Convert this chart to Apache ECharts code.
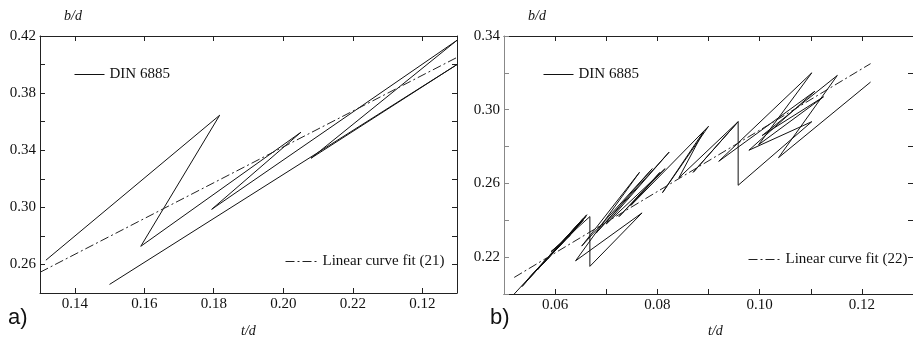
<!DOCTYPE html>
<html>
<head>
<meta charset="utf-8">
<script src="https://cdn.jsdelivr.net/npm/echarts@6/dist/echarts.min.js"></script>
<style>
  html, body { margin: 0; padding: 0; background: #fff; }
  #chart { width: 913px; height: 340px; }
</style>
</head>
<body>
<div id="chart"></div>
<script>
// Panel a) - DIN 6885 polyline (t/d, b/d) in drawing order
const dinA_t = [0.1317, 0.1817, 0.159, 0.2051, 0.1794, 0.25, 0.208, 0.25, 0.15];
const dinA_b = [0.263, 0.3645, 0.2727, 0.3526, 0.2986, 0.417, 0.3344, 0.400, 0.246];
// Panel a) - linear curve fit (21)
const fitA_t = [0.13, 0.25];
const fitA_b = [0.2545, 0.405];

// Panel b) - DIN 6885 polyline
const dinB_t = [0.052, 0.0662, 0.0535, 0.0655, 0.055, 0.065, 0.0565, 0.066, 0.0575, 0.0645,
  0.0585, 0.0655, 0.0595, 0.064, 0.060, 0.063, 0.0592,
  0.0668, 0.0668, 0.077, 0.064, 0.0765, 0.0652, 0.079, 0.068, 0.0823, 0.070, 0.0815,
  0.0725, 0.0805, 0.0748, 0.090, 0.081, 0.089, 0.0842, 0.0958, 0.087, 0.0958, 0.0958,
  0.1102, 0.0979, 0.1108, 0.092, 0.1102, 0.0998, 0.1125, 0.1005, 0.1152, 0.1037, 0.1217];
const dinB_b = [0.200, 0.243, 0.204, 0.241, 0.209, 0.239, 0.213, 0.242, 0.216, 0.237,
  0.219, 0.240, 0.222, 0.235, 0.224, 0.232, 0.223,
  0.242, 0.215, 0.244, 0.218, 0.266, 0.226, 0.268, 0.233, 0.277, 0.238, 0.268,
  0.242, 0.266, 0.248, 0.291, 0.255, 0.288, 0.263, 0.2935, 0.266, 0.2935, 0.259,
  0.2935, 0.278, 0.310, 0.272, 0.320, 0.281, 0.307, 0.286, 0.3186, 0.274, 0.315];
// Panel b) - linear curve fit (22)
const fitB_t = [0.052, 0.1217];
const fitB_b = [0.209, 0.325];

// ticks and labels
const xTicksA = [0.14, 0.16, 0.18, 0.20, 0.22, 0.24];
const xLabelsA = ['0.14', '0.16', '0.18', '0.20', '0.22', '0.12'];
const yTicksA = [0.24, 0.26, 0.28, 0.30, 0.32, 0.34, 0.36, 0.38, 0.40, 0.42];
const yLabelValsA = [0.26, 0.30, 0.34, 0.38, 0.42];
const xTicksB = [0.06, 0.07, 0.08, 0.09, 0.10, 0.11, 0.12];
const xLabelValsB = [0.06, 0.08, 0.10, 0.12];
const yTicksB = [0.20, 0.22, 0.24, 0.26, 0.28, 0.30, 0.32, 0.34];
const yLabelValsB = [0.22, 0.26, 0.30, 0.34];

const serif = '"Liberation Serif", "DejaVu Serif", serif';
const pairs = (xs, ys) => xs.map((x, i) => [x, ys[i]]);
const fmt2 = (v) => v.toFixed(2);
const fmtA = (v) => {
  let i = xTicksA.findIndex((u) => Math.abs(u - v) < 1e-6);
  return i >= 0 ? xLabelsA[i] : fmt2(v);
};

let makeAxis = (opts) => {
  let labelled = !!opts.labels;
  return {
    type: 'value',
    gridIndex: opts.grid,
    position: opts.position,
    min: opts.min,
    max: opts.max,
    splitLine: { show: false },
    axisLine: { show: opts.line !== false, onZero: false, lineStyle: { color: opts.color || '#222', width: 1 } },
    axisTick: { show: true, inside: true, length: 5, customValues: opts.ticks, lineStyle: { color: opts.color || '#222' } },
    axisLabel: labelled ? {
      show: true, customValues: opts.labels, formatter: opts.formatter || fmt2,
      color: '#111', fontFamily: serif, fontSize: 15, margin: opts.margin || 4
    } : { show: false }
  };
};

let makeLegend = (name, left, top, width) => ({
  data: [name], left: left, top: top, itemWidth: width, itemHeight: 10, itemGap: 4,
  itemStyle: { opacity: 0 },
  lineStyle: { width: 1 },
  textStyle: { fontFamily: serif, fontSize: 15, color: '#111' }
});

const dashDot = [9, 3, 2, 3];
const chart = echarts.init(document.getElementById('chart'), null, { renderer: 'canvas' });

chart.setOption({
  animation: false,
  backgroundColor: '#fff',
  grid: [
    { left: 40, top: 36, width: 417, height: 257 },
    { left: 504, top: 36, width: 416, height: 258 }
  ],
  xAxis: [
    makeAxis({ grid: 0, position: 'bottom', min: 0.13, max: 0.25, ticks: xTicksA, labels: xTicksA, formatter: fmtA }),
    makeAxis({ grid: 0, position: 'top', min: 0.13, max: 0.25, ticks: xTicksA }),
    makeAxis({ grid: 1, position: 'bottom', min: 0.05, max: 0.13, ticks: xTicksB, labels: xLabelValsB }),
    makeAxis({ grid: 1, position: 'top', min: 0.05, max: 0.13, ticks: xTicksB })
  ],
  yAxis: [
    makeAxis({ grid: 0, position: 'left', min: 0.24, max: 0.42, ticks: yTicksA, labels: yLabelValsA }),
    makeAxis({ grid: 0, position: 'right', min: 0.24, max: 0.42, ticks: yTicksA }),
    makeAxis({ grid: 1, position: 'left', min: 0.20, max: 0.34, ticks: yTicksB, labels: yLabelValsB, color: '#888' }),
    makeAxis({ grid: 1, position: 'right', min: 0.20, max: 0.34, ticks: yTicksB, line: false })
  ],
  legend: [
    makeLegend('DIN 6885', 69, 62, 30),
    makeLegend('Linear curve fit (21)', 280, 249, 32),
    makeLegend('DIN 6885', 538, 62, 30),
    makeLegend('Linear curve fit (22)', 743, 247, 32)
  ],
  series: [
    { name: 'DIN 6885', type: 'line', xAxisIndex: 0, yAxisIndex: 0, data: pairs(dinA_t, dinA_b),
      symbol: 'none', lineStyle: { color: '#111', width: 1 }, itemStyle: { color: '#111' } },
    { name: 'Linear curve fit (21)', type: 'line', xAxisIndex: 0, yAxisIndex: 0, data: pairs(fitA_t, fitA_b),
      symbol: 'none', lineStyle: { color: '#222', width: 1, type: dashDot }, itemStyle: { color: '#222' } },
    { name: 'DIN 6885', type: 'line', xAxisIndex: 2, yAxisIndex: 2, data: pairs(dinB_t, dinB_b),
      symbol: 'none', lineStyle: { color: '#111', width: 1 }, itemStyle: { color: '#111' } },
    { name: 'Linear curve fit (22)', type: 'line', xAxisIndex: 2, yAxisIndex: 2, data: pairs(fitB_t, fitB_b),
      symbol: 'none', lineStyle: { color: '#222', width: 1, type: dashDot }, itemStyle: { color: '#222' } }
  ],
  graphic: [
    { type: 'text', left: 64, top: 9, style: { text: 'b/d', font: 'italic 14px ' + serif, fill: '#111' } },
    { type: 'text', left: 528, top: 9, style: { text: 'b/d', font: 'italic 14px ' + serif, fill: '#111' } },
    { type: 'text', left: 241, top: 324, style: { text: 't/d', font: 'italic 14px ' + serif, fill: '#111' } },
    { type: 'text', left: 708, top: 324, style: { text: 't/d', font: 'italic 14px ' + serif, fill: '#111' } },
    { type: 'text', left: 8, top: 307, style: { text: 'a)', font: '22px "Liberation Sans", Arial, sans-serif', fill: '#111' } },
    { type: 'text', left: 490, top: 307, style: { text: 'b)', font: '22px "Liberation Sans", Arial, sans-serif', fill: '#111' } }
  ]
});
</script>
</body>
</html>
